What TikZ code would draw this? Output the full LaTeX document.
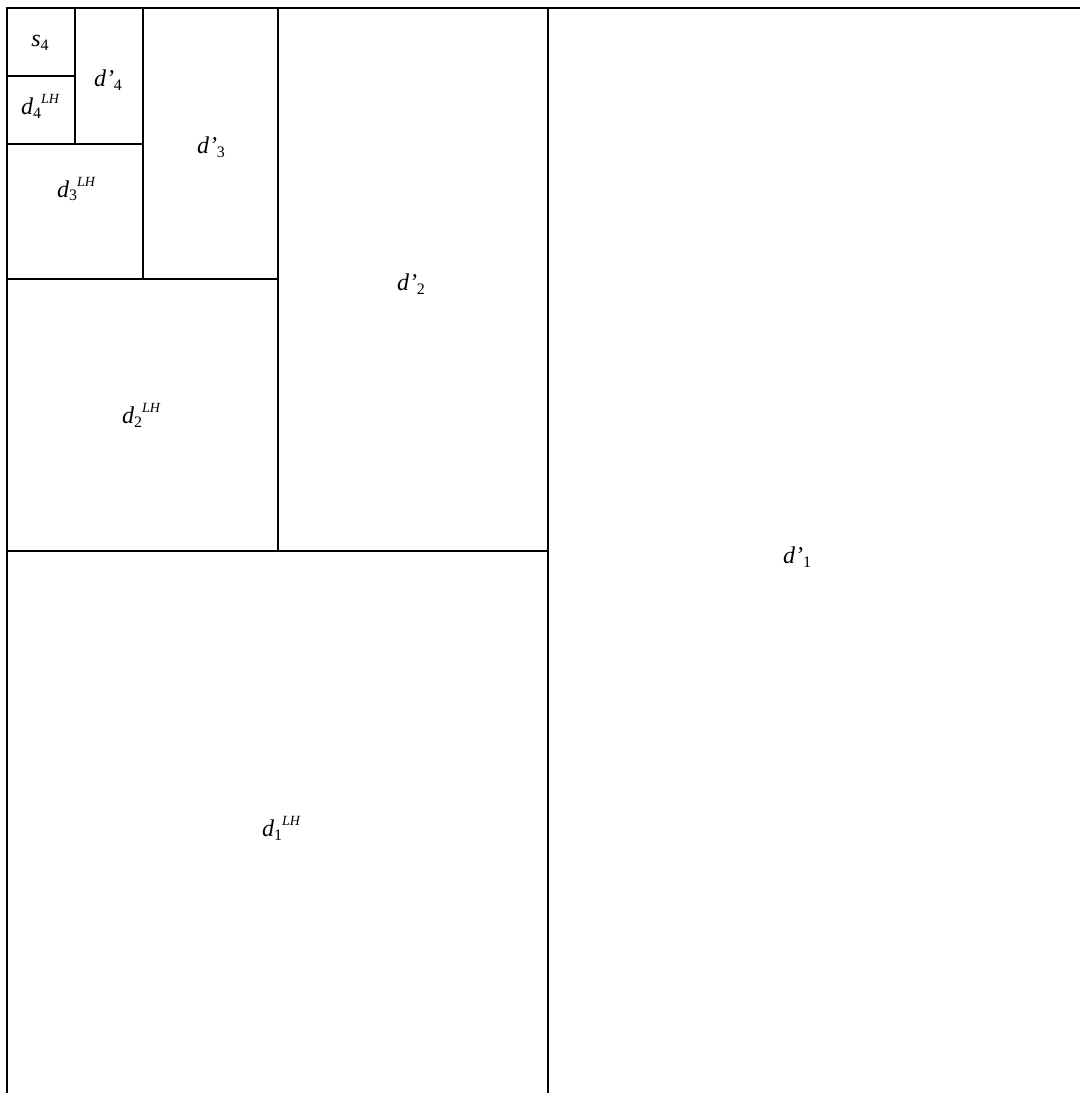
\documentclass[tikz,border=0pt]{standalone}
\usepackage{fontspec}
\setmainfont{Liberation Serif}
\newcommand{\lbl}[3]{\textit{#1}\raisebox{-0.35ex}{\fontsize{16}{16}\selectfont #2}\raisebox{1.0ex}{\fontsize{14}{14}\selectfont\itshape #3}}
\newcommand{\lblp}[2]{\textit{#1’}\raisebox{-0.35ex}{\fontsize{16}{16}\selectfont #2}}
\begin{document}
\begin{tikzpicture}[x=1pt,y=-1pt,
  gridline/.style={line width=1.1pt,black},
  lab/.style={font=\fontsize{24}{24}\selectfont,inner sep=0pt}]
\useasboundingbox (0,0) rectangle (1080,1093);
% outer lines
\draw[gridline] (1080,8) -- (7,8) -- (7,1093);
% level 1
\draw[gridline] (548,8) -- (548,1093);
\draw[gridline] (7,551) -- (548,551);
% level 2
\draw[gridline] (278,8) -- (278,551);
\draw[gridline] (7,279) -- (278,279);
% level 3
\draw[gridline] (143,8) -- (143,279);
\draw[gridline] (7,144) -- (143,144);
% level 4
\draw[gridline] (75,8) -- (75,144);
\draw[gridline] (7,76) -- (75,76);
% labels
\node[lab] (s4) at (40,43) {\textit{s}\raisebox{-0.35ex}{\fontsize{16}{16}\selectfont 4}};
\node[lab] (dp4) at (108,80) {\lblp{d}{4}};
\node[lab] (d4) at (40,106) {\lbl{d}{4}{LH}};
\node[lab] (dp3) at (211,147) {\lblp{d}{3}};
\node[lab] (d3) at (76,189) {\lbl{d}{3}{LH}};
\node[lab] (dp2) at (411,284) {\lblp{d}{2}};
\node[lab] (d2) at (141,415) {\lbl{d}{2}{LH}};
\node[lab] (dp1) at (797,557) {\lblp{d}{1}};
\node[lab] (d1) at (281,828) {\lbl{d}{1}{LH}};
\end{tikzpicture}
\end{document}
